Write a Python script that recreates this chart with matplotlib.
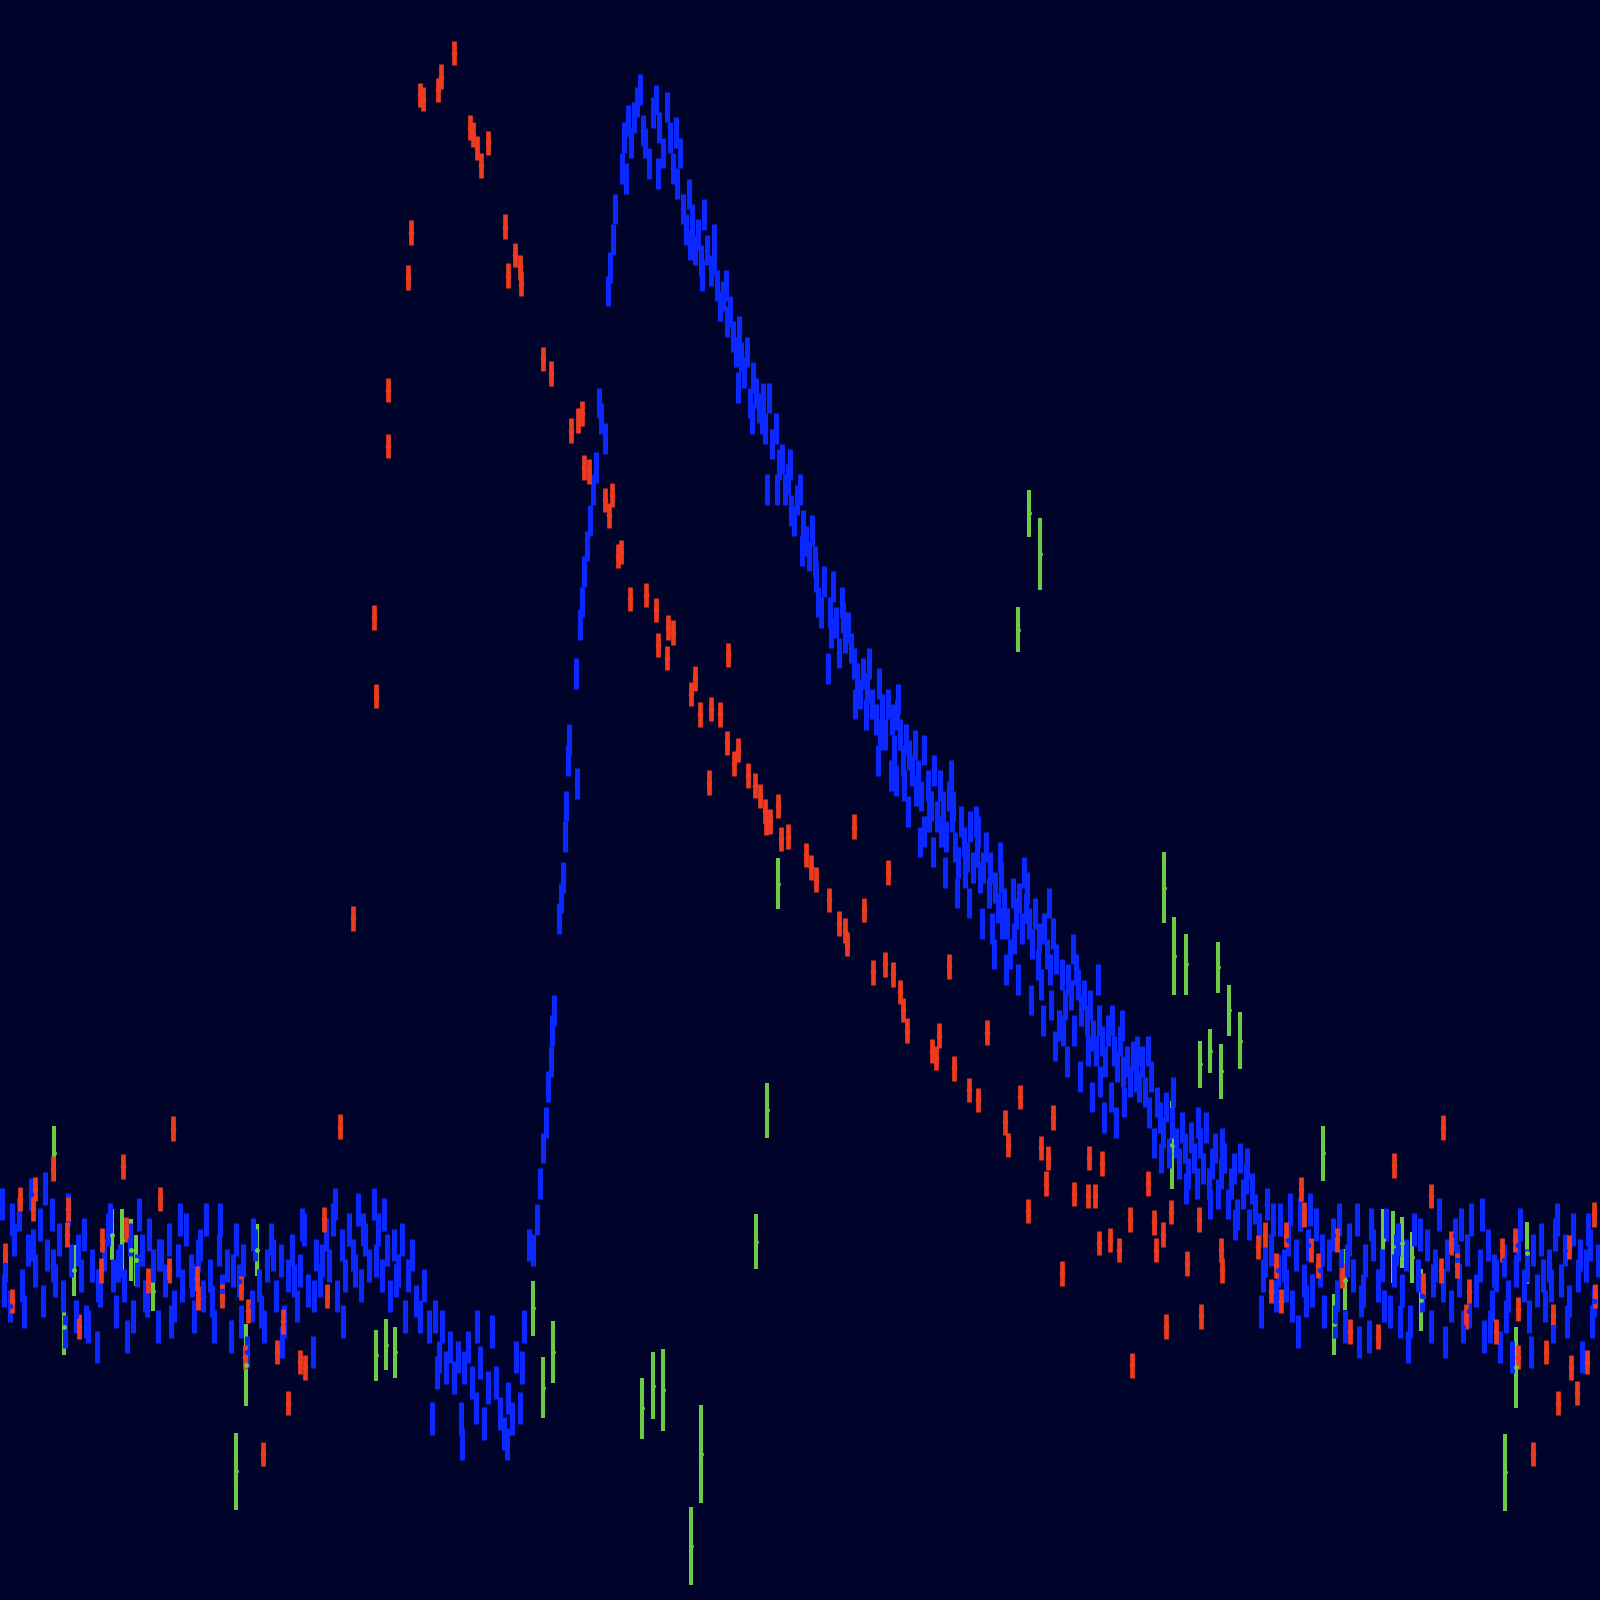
import matplotlib
matplotlib.use("Agg")
import matplotlib.pyplot as plt

# light curve of an outburst: time in days, brightness in magnitudes (axis inverted)

# ---- blue band: quiescence before the outburst ----
blue_pre_t = [
    0.2, 0.5, 1.0, 1.4, 1.9, 2.2, 2.7, 3.0, 3.4, 3.9,
    4.2, 4.6, 5.1, 5.4, 5.8, 6.2, 6.7, 7.0, 7.4, 7.9,
    8.2, 8.6, 9.0, 9.5, 9.8, 10.2, 10.6, 11.1, 11.4, 11.8,
    12.2, 12.7, 13.0, 13.4, 13.9, 14.2, 14.6, 15.0, 15.5, 15.8,
    16.2, 16.6, 17.1, 17.4, 17.8, 18.2, 18.7, 19.0, 19.4, 19.9,
    20.2, 20.6, 21.0, 21.5, 21.8, 22.2, 22.6, 23.1, 23.4, 23.8,
    24.2, 24.7, 25.0, 25.4, 25.9, 26.2, 26.6, 27.0, 27.5, 27.8,
    28.2, 28.6, 29.1, 29.4, 29.8, 30.2, 30.7, 31.0, 31.4, 31.9,
    32.2, 32.6, 33.0, 33.5, 33.8, 34.2, 34.6, 35.1, 35.4, 35.8,
    36.2, 36.7, 37.0, 37.4, 37.9, 38.2, 38.6, 39.0,
    0.4, 1.2, 2.4, 3.2, 4.4, 5.2, 6.4, 7.6, 8.4, 9.6,
    10.8, 11.6, 12.4, 13.6, 14.4, 15.6, 16.8, 17.6, 18.8, 19.6,
    20.8, 21.6, 22.8, 23.6, 24.8, 25.6, 26.8, 27.6, 28.8, 29.6,
    30.8, 31.6, 32.8, 33.6, 34.8, 35.6, 36.8, 37.6, 38.8, 39.4,
]
blue_pre_mag = [
    16.80, 17.40, 17.80, 17.15, 16.90, 17.60, 17.25, 16.70, 17.45, 17.00,
    17.75, 17.30, 16.90, 17.55, 17.15, 17.70, 16.85, 17.35, 17.90, 17.50,
    17.10, 18.00, 17.40, 18.20, 17.65, 17.30, 17.05, 17.50, 17.85, 17.35,
    17.60, 17.15, 17.90, 17.45, 17.25, 17.70, 17.10, 17.40, 18.00, 17.30,
    17.55, 17.15, 17.80, 17.35, 17.60, 17.05, 17.45, 17.90, 17.30, 17.70,
    16.95, 17.50, 18.00, 17.25, 17.65, 17.40, 18.10, 17.15, 17.55, 17.35,
    18.25, 17.80, 17.20, 17.60, 18.00, 17.40, 17.15, 17.70, 17.35, 17.95,
    17.50, 17.25, 17.80, 17.45, 17.05, 17.65, 18.25, 17.30, 17.55, 17.10,
    17.40, 16.95, 17.70, 17.20, 17.50, 17.05, 17.30, 16.85, 17.60, 17.15,
    17.40, 16.80, 17.05, 17.50, 17.25, 17.70, 17.20, 17.45,
    17.65, 16.95, 17.85, 17.20, 16.65, 17.40, 18.05, 17.25, 17.95, 17.60,
    16.95, 17.40, 18.10, 16.90, 17.75, 17.30, 17.95, 16.95, 17.55, 17.20,
    17.75, 16.95, 17.45, 17.95, 17.10, 17.85, 17.30, 18.15, 17.55, 17.00,
    17.70, 17.35, 16.80, 17.95, 17.45, 17.05, 17.35, 16.90, 17.55, 17.15,
]

# ---- blue band: pre-outburst dip ----
blue_dip_t = [
    39.7, 40.0, 40.4, 40.8, 41.2, 41.6, 42.0, 42.3, 42.6, 42.8,
    43.0, 43.3, 43.7, 44.1, 44.5, 44.9, 45.2, 45.3, 45.5, 45.9,
    46.3, 46.6, 46.7, 47.0, 47.4, 47.8, 48.2, 48.6, 49.0, 49.4,
    49.7, 49.8, 50.2, 50.6, 51.0, 51.2, 51.4, 51.8, 52.2,
]
blue_dip_mag = [
    17.90, 17.50, 17.30, 17.75, 17.90, 17.60, 18.00, 18.90, 17.90, 18.45,
    18.30, 18.00, 18.40, 18.20, 18.50, 18.30, 18.90, 19.15, 18.40, 18.20,
    18.55, 18.80, 18.00, 18.35, 18.95, 18.60, 18.05, 18.55, 18.85, 19.05,
    19.15, 18.70, 18.90, 18.30, 18.80, 18.40, 18.00, 17.20, 17.25,
]

# ---- blue band: rise to maximum ----
blue_rise_t = [
    52.6, 52.9, 53.2, 53.5, 53.7, 54.0, 54.1, 54.3, 54.8, 55.0,
    55.2, 55.4, 55.5, 55.7, 55.8, 56.5, 56.4, 56.8, 57.0, 57.2,
    57.5, 57.8, 58.1, 58.4, 58.7, 58.9, 59.3, 59.6, 59.8, 60.1,
    60.3, 61.0, 61.2, 61.5, 61.8, 62.1, 62.4, 62.7, 63.0, 61.3,
]
blue_rise_mag = [
    16.95, 16.60, 16.25, 16.00, 15.65, 15.40, 15.10, 14.90, 14.00, 13.80,
    13.60, 13.20, 12.90, 12.45, 12.25, 12.68, 11.60, 11.12, 10.90, 10.60,
    10.35, 10.10, 9.80, 9.58, 8.95, 9.10, 9.30, 7.85, 7.62, 7.35,
    7.05, 6.65, 6.35, 6.18, 6.40, 6.15, 6.00, 5.88, 6.28, 6.75,
]

# ---- blue band: decline ----
blue_decl_t = [
    63.2, 63.6, 64.0, 64.3, 64.6, 65.0, 65.4, 65.7, 66.0, 66.3,
    66.6, 66.9, 67.2, 67.5, 67.8, 68.1, 68.4, 68.7, 69.0, 69.3,
    69.7, 70.0, 70.3, 70.6, 70.9, 71.2, 71.5, 71.8, 72.1, 72.3,
    72.6, 72.9, 73.2, 73.5, 73.8, 74.1, 74.4, 74.7, 75.0, 75.2,
    75.4, 75.7, 76.0, 76.3, 76.6, 76.9, 77.2, 77.5, 77.8, 78.1,
    78.4, 78.7, 79.0, 79.3, 79.6, 79.9, 80.2, 80.5, 80.8, 81.1,
    81.3, 81.6, 81.9, 82.2, 82.5, 82.8, 83.1, 83.4, 83.7, 84.0,
    84.3, 84.6, 84.9, 85.2, 85.5, 85.8, 86.1, 86.4, 86.7, 87.0,
    87.3, 87.6, 87.9, 88.2, 88.5, 88.8, 89.1, 89.4, 89.7, 90.0,
    90.3, 90.6, 90.9, 91.2, 91.5, 91.8, 92.1, 92.4, 92.7, 93.0,
    93.3, 93.6, 93.9, 94.2, 94.5, 94.8, 95.1, 95.4, 95.7, 96.0,
    96.3, 96.6, 96.9, 97.2, 97.5, 97.8, 98.1, 98.4, 98.7, 99.0,
    99.3, 99.6, 99.9, 100.2, 100.5, 100.8, 101.1, 101.4, 101.7, 102.0,
    102.3, 102.6, 102.9, 103.2, 103.5, 103.8, 104.1, 104.4, 104.7, 105.0,
    105.3, 105.6, 105.9, 106.2, 106.5, 106.8, 107.1, 107.4, 107.7, 108.0,
    108.3, 108.6, 108.9, 109.2, 109.5, 109.8, 110.1, 110.4, 110.7, 111.0,
    111.3, 111.6, 111.9, 112.2, 112.5, 112.8, 113.1, 113.4, 113.7, 114.0,
    114.3, 114.6, 114.9, 115.2, 115.5, 115.8, 116.1, 116.4, 116.7, 117.0,
    117.3, 117.6, 117.9, 118.2, 118.5, 118.8, 119.1, 119.4, 119.7, 120.0,
    120.3, 120.6, 120.9, 121.2, 121.5, 121.8, 122.1, 122.4, 122.7, 123.0,
    64.5, 66.2, 67.6, 68.8, 70.0, 71.1, 72.4, 73.7, 74.8, 76.1,
    77.4, 78.6, 80.0, 81.4, 82.6, 83.8, 85.0, 86.2, 87.4, 88.6,
    89.8, 91.0, 92.2, 93.4, 94.6, 95.8, 97.0, 98.2, 99.4, 100.6,
    101.8, 103.0, 104.2, 105.4, 106.6, 107.8, 109.0, 110.2, 111.4, 112.6,
    113.8, 115.0, 116.2, 117.4, 118.6, 119.8, 121.0, 122.2,
    86.0, 87.8, 89.0, 90.2, 91.4, 92.6, 93.8, 95.0, 96.2, 97.4,
    98.6, 99.8, 101.0, 102.2, 103.4, 104.6, 105.8, 107.0, 108.2, 109.4,
    88.0, 90.6, 93.2, 95.6, 98.0, 100.4, 102.8, 105.2, 107.6, 110.0,
]
blue_decl_mag = [
    6.40, 6.60, 6.10, 5.98, 6.25, 6.50, 6.05, 6.35, 6.65, 6.80,
    6.50, 7.05, 7.25, 6.90, 7.15, 7.45, 7.30, 7.55, 7.10, 7.45,
    7.65, 7.55, 7.80, 8.00, 7.90, 8.15, 8.05, 8.30, 8.45, 8.80,
    8.50, 8.65, 8.45, 8.95, 8.70, 8.85, 9.00, 9.10, 9.20, 9.80,
    8.90, 9.35, 9.20, 9.55, 9.50, 9.80, 9.70, 10.00, 10.10, 9.90,
    9.80, 10.15, 10.30, 10.45, 10.20, 10.50, 10.90, 11.00, 10.70, 11.55,
    11.00, 10.75, 11.10, 11.40, 10.90, 11.25, 11.15, 11.35, 11.50, 11.65,
    11.80, 11.60, 12.00, 11.50, 11.90, 12.05, 11.70, 11.95, 12.20, 11.90,
    12.60, 12.35, 12.00, 12.20, 12.45, 12.25, 12.40, 12.55, 12.30, 12.60,
    12.80, 13.15, 12.70, 12.90, 12.55, 13.00, 12.70, 12.90, 13.20, 12.80,
    13.00, 13.30, 13.45, 13.05, 13.25, 13.40, 13.10, 13.50, 13.35, 13.60,
    13.50, 13.30, 13.75, 14.10, 13.70, 13.90, 13.60, 13.85, 14.05, 14.35,
    13.75, 13.95, 13.80, 14.10, 13.90, 14.05, 14.25, 13.95, 14.45, 14.65,
    14.10, 14.35, 14.50, 14.15, 14.40, 15.05, 14.55, 14.85, 14.60, 14.75,
    15.10, 14.65, 14.90, 14.75, 15.00, 14.85, 15.15, 15.30, 15.00, 15.20,
    15.40, 15.10, 15.75, 15.30, 15.45, 15.20, 15.50, 15.40, 15.60, 15.35,
    15.55, 15.65, 15.40, 15.70, 15.30, 15.55, 16.20, 15.80, 15.95, 16.10,
    15.85, 16.30, 16.00, 16.20, 16.40, 16.05, 16.25, 16.50, 16.15, 16.35,
    16.60, 16.20, 16.45, 16.05, 16.60, 16.40, 16.25, 16.70, 16.50, 16.35,
    16.80, 16.60, 16.45, 16.90, 16.35, 16.70, 16.55, 17.00, 16.65, 16.85,
    6.70, 6.30, 7.40, 7.70, 7.35, 7.80, 8.25, 9.10, 8.90, 9.80,
    9.55, 10.40, 10.65, 11.20, 11.05, 11.90, 11.75, 12.20, 12.05, 12.70,
    12.75, 13.00, 13.15, 12.90, 13.55, 13.15, 13.50, 14.05, 14.20, 13.70,
    14.20, 14.85, 15.10, 14.50, 15.30, 15.60, 15.00, 15.80, 15.30, 15.90,
    16.35, 15.70, 16.65, 16.00, 16.80, 16.20, 17.00, 16.40,
    12.45, 12.65, 12.95, 13.25, 13.35, 13.55, 13.75, 13.85, 14.05, 14.35,
    14.50, 14.60, 14.80, 15.00, 15.25, 15.40, 15.55, 15.75, 15.95, 16.00,
    11.85, 12.35, 12.60, 13.05, 13.40, 13.55, 13.85, 14.30, 14.60, 15.05,
]

# ---- blue band: quiescence after the outburst ----
blue_post_t = [
    123.4, 123.8, 124.2, 124.6, 125.0, 125.4, 125.8, 126.2, 126.6, 127.0,
    127.4, 127.8, 128.2, 128.6, 129.0, 129.4, 129.8, 130.2, 130.6, 131.0,
    131.4, 131.8, 132.2, 132.6, 133.0, 133.4, 133.8, 134.2, 134.6, 135.0,
    135.4, 135.8, 136.2, 136.6, 137.0, 137.4, 137.8, 138.2, 138.6, 139.0,
    139.4, 139.8, 140.2, 140.6, 141.0, 141.4, 141.8, 142.2, 142.6, 143.0,
    143.4, 143.8, 144.2, 144.6, 145.0, 145.4, 145.8, 146.2, 146.6, 147.0,
    147.4, 147.8, 148.2, 148.6, 149.0, 149.4, 149.8, 150.2, 150.6, 151.0,
    151.4, 151.8, 152.2, 152.6, 153.0, 153.4, 153.8, 154.2, 154.6, 155.0,
    155.4, 155.8, 156.2, 156.6,
    123.6, 124.8, 126.0, 127.2, 128.4, 129.6, 130.8, 132.0, 133.2, 134.4,
    135.6, 136.8, 138.0, 139.2, 140.4, 141.6, 142.8, 144.0, 145.2, 146.4,
    147.6, 148.8, 150.0, 151.2, 152.4, 153.6, 154.8, 156.0, 124.0, 125.2,
    126.4, 128.0, 131.2, 133.6, 137.2, 143.2, 146.0, 149.6, 152.0, 155.6,
]
blue_post_mag = [
    17.05, 17.50, 16.80, 17.25, 17.70, 16.95, 17.40, 17.15, 17.80, 17.30,
    16.90, 17.55, 17.20, 17.65, 17.00, 17.45, 17.85, 17.30, 17.10, 17.70,
    17.40, 18.00, 17.15, 17.50, 16.95, 17.75, 17.35, 18.10, 17.20, 17.60,
    17.40, 17.00, 17.85, 17.45, 17.15, 17.65, 17.30, 17.95, 17.05, 17.50,
    17.70, 17.20, 18.00, 17.40, 16.90, 17.60, 17.30, 17.80, 17.10, 17.55,
    18.00, 17.25, 16.95, 17.65, 17.40, 18.10, 17.20, 17.80, 17.50, 18.20,
    17.35, 17.70, 18.30, 17.45, 17.00, 17.60, 17.90, 17.25, 17.65, 17.15,
    17.80, 17.40, 18.00, 16.95, 17.55, 17.25, 17.75, 17.05, 17.50, 18.30,
    17.40, 17.20, 17.75, 17.35,
    17.85, 16.95, 17.60, 18.05, 16.85, 17.25, 17.95, 17.35, 18.15, 17.00,
    17.80, 17.25, 18.20, 17.10, 17.55, 18.15, 17.35, 17.85, 16.90, 17.45,
    17.90, 17.20, 18.25, 17.50, 17.10, 17.95, 17.30, 17.95, 17.35, 17.45,
    16.85, 17.75, 16.95, 17.65, 17.95, 17.00, 18.00, 17.40, 17.60, 17.05,
]

# ---- red points ----
red_t = [
    0.5, 1.2, 2.0, 3.2, 3.4, 5.2, 6.6, 6.7, 7.7, 9.9,
    10.0, 12.1, 12.3, 14.5, 15.7, 16.6, 17.0, 19.3, 19.4, 21.8,
    23.6, 24.0, 24.3, 25.8, 27.1, 27.7, 28.2, 29.4, 29.9, 31.8,
    32.0, 33.3,
    34.6, 36.7, 36.8, 38.0, 38.0, 40.0, 40.3, 41.2, 41.5, 42.9,
    43.2, 44.5, 46.1, 46.4, 46.7, 47.1, 47.8, 49.5, 49.8, 50.5,
    51.0, 51.1, 53.2, 54.0, 56.0, 56.6, 57.0, 57.2, 57.7, 59.3,
    59.7, 60.0, 60.6, 60.9, 61.7, 63.3, 64.3, 64.5, 65.4, 65.5,
    66.0, 67.7, 68.1, 68.6, 69.5, 69.7, 70.6, 71.2, 71.3, 71.9,
    72.3, 73.3, 74.0, 74.5, 75.0, 75.1, 75.5, 76.2, 76.5, 77.2,
    79.0, 79.5, 80.0, 81.2, 82.2, 82.8, 83.0, 83.7, 84.7, 85.6,
    86.7, 87.0, 87.5, 88.2, 88.5, 88.9, 91.3, 91.7, 92.0, 93.0,
    93.5, 95.0, 95.8, 96.7, 98.5, 98.8, 100.0, 100.7, 102.0, 102.5,
    102.7, 103.2, 104.1, 105.3, 106.6, 106.7, 107.3, 107.7, 108.0, 108.8,
    109.7, 110.7, 110.9, 112.5, 113.1, 113.3, 114.0, 114.3, 114.8, 116.3,
    117.5, 117.7, 119.7, 119.8,
    123.3, 124.0, 124.6, 125.0, 125.5, 126.0, 127.5, 127.8, 128.5, 129.2,
    131.0, 131.5, 132.3, 135.0, 136.6, 139.5, 140.2, 141.2, 141.4, 142.2,
    142.8, 143.7, 144.0, 146.6, 147.2, 148.5, 148.8, 148.8, 150.2, 151.5,
    152.2, 152.7, 153.8, 154.0, 154.5, 155.5, 156.2, 156.3,
]
red_mag = [
    17.30, 17.75, 16.75, 16.85, 16.65, 16.45, 17.10, 16.85, 18.00, 17.45,
    17.15, 16.43, 17.05, 17.55, 16.75, 17.45, 16.06, 17.53, 17.72, 17.70,
    17.62, 18.30, 17.85, 19.25, 18.25, 17.95, 18.75, 18.35, 18.40, 16.95,
    17.70, 16.04,
    14.00, 11.05, 11.82, 8.82, 9.37, 7.72, 7.28, 5.93, 5.97, 5.88,
    5.75, 5.52, 6.25, 6.32, 6.45, 6.62, 6.40, 7.22, 7.70, 7.50,
    7.62, 7.78, 8.52, 8.66, 9.22, 9.12, 9.05, 9.58, 9.62, 9.90,
    10.05, 9.85, 10.45, 10.41, 10.87, 10.83, 10.98, 11.32, 11.45, 11.15,
    11.20, 11.80, 11.65, 12.00, 12.67, 11.95, 12.00, 12.28, 11.42, 12.48,
    12.35, 12.60, 12.70, 12.80, 12.95, 13.06, 13.05, 12.90, 13.22, 13.20,
    13.38, 13.50, 13.62, 13.82, 14.05, 14.12, 14.25, 13.10, 13.92, 14.53,
    14.45, 13.55, 14.55, 14.72, 14.90, 15.10, 15.30, 15.37, 15.15, 14.47,
    15.47, 15.68, 15.78, 15.12, 16.00, 16.22, 15.75, 16.87, 16.25, 16.60,
    16.35, 15.95, 17.48, 16.70, 16.72, 16.35, 16.72, 17.18, 16.40, 17.15,
    17.25, 16.95, 18.38, 16.60, 16.98, 17.25, 17.10, 18.00, 16.88, 17.38,
    16.95, 17.90, 17.25, 17.45,
    17.22, 17.10, 17.65, 17.40, 17.75, 17.10, 16.65, 16.90, 17.25, 17.40,
    17.15, 17.50, 18.05, 18.10, 16.42, 17.60, 16.72, 17.45, 16.05, 17.18,
    17.40, 17.90, 17.65, 18.05, 17.25, 17.15, 17.83, 18.30, 19.25, 18.25,
    17.90, 18.75, 17.22, 18.40, 18.65, 18.35, 16.90, 17.70,
]

# ---- green points (large uncertainties) ----
green_t = [
    5.3, 6.3, 7.3, 11.0, 12.0, 12.8, 13.3, 15.0, 23.1, 24.1,
    25.2, 36.8, 37.8, 38.7, 52.2, 53.2, 54.2, 62.9, 64.0, 65.0,
    67.7, 68.7, 74.1, 75.2, 76.2, 99.8, 100.8, 101.9, 114.1, 114.9,
    115.1, 116.2, 117.6, 118.6, 119.4, 119.7, 120.4, 121.5, 129.7, 130.7,
    131.8, 135.5, 136.5, 137.4, 138.4, 139.3, 147.5, 148.6, 149.6,
]
green_mag = [
    16.30, 18.00, 17.45, 17.10, 17.15, 17.25, 17.35, 17.65, 19.42, 18.38,
    17.25, 18.28, 18.18, 18.25, 17.82, 18.60, 18.25, 18.80, 18.58, 18.62,
    20.15, 19.25, 17.17, 15.88, 13.66, 11.17, 10.03, 10.43, 13.70, 16.22,
    14.37, 14.45, 15.43, 15.30, 14.48, 15.50, 14.90, 15.20, 16.30, 17.98,
    17.54, 17.15, 17.22, 17.18, 17.32, 17.74, 19.43, 18.40, 17.28,
]
green_err = [
    0.27, 0.28, 0.25, 0.25, 0.30, 0.30, 0.25, 0.20, 0.38, 0.40,
    0.25, 0.25, 0.25, 0.25, 0.27, 0.30, 0.30, 0.30, 0.33, 0.40,
    0.38, 0.48, 0.27, 0.27, 0.25, 0.22, 0.23, 0.35, 0.35, 0.43,
    0.38, 0.30, 0.23, 0.22, 0.25, 0.27, 0.25, 0.28, 0.27, 0.30,
    0.30, 0.30, 0.35, 0.25, 0.25, 0.30, 0.38, 0.40, 0.30,
]

# typical 1-sigma uncertainties
blue_err_quiet = 0.16
blue_err_active = 0.15
red_err = 0.12

BG = "#00042a"
BLUE = "#0a28ff"
RED = "#ee3a1e"
GREEN = "#6ccc46"

fig = plt.figure(figsize=(16, 16), dpi=100, facecolor=BG)
ax = fig.add_axes([0, 0, 1, 1])
ax.set_facecolor(BG)

kw = dict(fmt="o", capsize=0, linestyle="none")
ax.errorbar(green_t, green_mag, yerr=green_err, color=GREEN, ms=2.5,
            elinewidth=2.9, **kw)

blue_sets = [
    (blue_pre_t, blue_pre_mag, blue_err_quiet),
    (blue_dip_t, blue_dip_mag, blue_err_quiet),
    (blue_rise_t, blue_rise_mag, blue_err_active),
    (blue_decl_t, blue_decl_mag, blue_err_active),
    (blue_post_t, blue_post_mag, blue_err_quiet),
]
for t, m, e in blue_sets:
    ax.errorbar(t, m, yerr=e, color=BLUE, ms=3.0, elinewidth=3.6, **kw)

ax.errorbar(red_t, red_mag, yerr=red_err, color=RED, ms=3.0,
            elinewidth=3.4, **kw)

ax.set_xlim(0, 156.8)
ax.set_ylim(20.68, 5.0)
ax.axis("off")

fig.savefig("out.png", dpi=100, facecolor=BG)
